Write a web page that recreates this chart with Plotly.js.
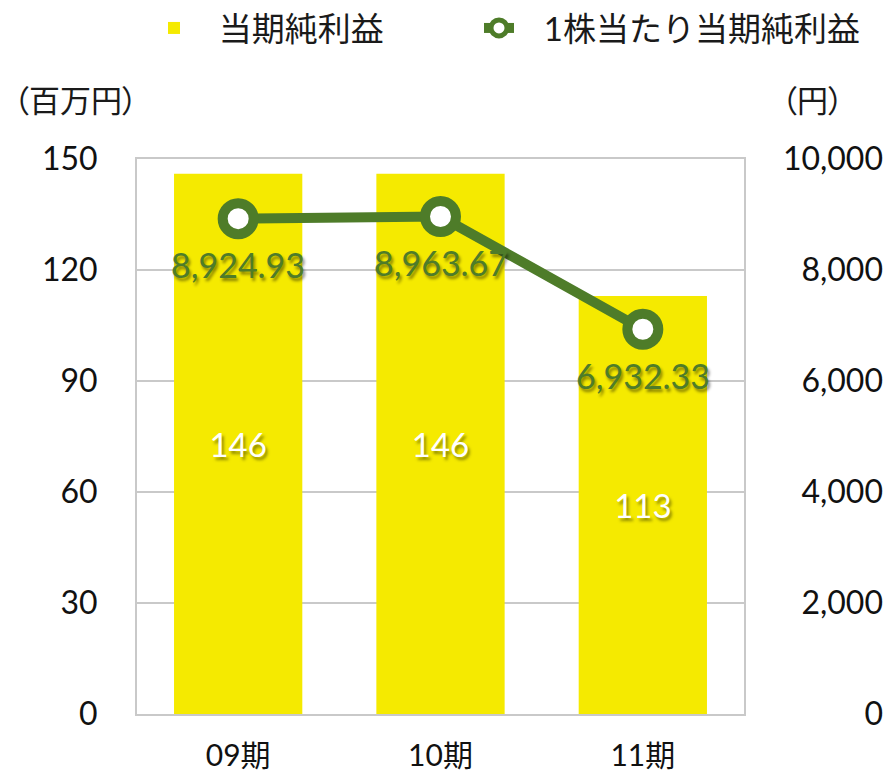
<!DOCTYPE html>
<html>
<head>
<meta charset="utf-8">
<script src="https://cdn.plot.ly/plotly-3.0.1.min.js"></script>
<style>
html,body{margin:0;padding:0;background:#fff;}
#chart{width:888px;height:772px;}
#chart .annotation-text{font-feature-settings:"palt";}
</style>
</head>
<body>
<div id="chart"></div>
<script>
// ---- data ----
const categories = ["09期", "10期", "11期"];
const netIncome = [146, 146, 113];                 // 当期純利益（百万円）
const eps = [8924.93, 8963.67, 6932.33];           // 1株当たり当期純利益（円）
const seriesNames = ["当期純利益", "1株当たり当期純利益"];
const leftTicks = [0, 30, 60, 90, 120, 150];
const rightTicks = [0, 2000, 4000, 6000, 8000, 10000];
const unitLabels = ["（百万円）", "（円）"];

// ---- style ----
const YELLOW = "#f5ea00";
const GREEN = "#4e7c29";
const GRID = "#c9c9c9";
const NUMFONT = "Lato, 'Noto Sans CJK JP', sans-serif";
const JPFONT = "'Noto Sans CJK JP', Lato, sans-serif";
const LEGEND_PAD = "\u2002\u2005";

const fmt2 = v => v.toLocaleString("en-US", { minimumFractionDigits: 2, maximumFractionDigits: 2 });

const barTrace = {
  type: "bar",
  name: LEGEND_PAD + seriesNames[0],
  legend: "legend",
  x: categories,
  y: netIncome,
  yaxis: "y",
  marker: { color: YELLOW },
  text: netIncome.map(v => String(v)),
  textposition: "inside",
  insidetextanchor: "middle",
  textangle: 0,
  textfont: { family: NUMFONT, size: 33, color: "#ffffff", shadow: "2px 3px 3px rgba(60,60,0,0.55)" },
  hoverinfo: "skip"
};

const lineTrace = {
  type: "scatter",
  mode: "lines+markers",
  name: LEGEND_PAD + seriesNames[1],
  legend: "legend2",
  x: categories,
  y: eps,
  yaxis: "y2",
  line: { color: GREEN, width: 10 },
  marker: { color: "#ffffff", size: 31, line: { color: GREEN, width: 10 } },
  cliponaxis: false,
  hoverinfo: "skip"
};

const epsLabels = categories.map((c, i) => ({
  text: fmt2(eps[i]),
  xref: "x", yref: "y2", x: c, y: eps[i],
  xanchor: "center", yanchor: "middle", yshift: -46,
  showarrow: false,
  font: { family: NUMFONT, size: 34, color: GREEN, shadow: "2px 3px 3px rgba(0,0,0,0.45)" }
}));

const legendBase = {
  orientation: "h",
  xref: "container", yref: "container",
  y: 1, xanchor: "left", yanchor: "top",
  font: { family: NUMFONT, size: 33, color: "#1a1a1a" },
  itemwidth: 30,
  bgcolor: "rgba(0,0,0,0)"
};

const layout = {
  width: 888,
  height: 772,
  margin: { l: 0, r: 0, t: 159, b: 58 },
  paper_bgcolor: "#ffffff",
  plot_bgcolor: "#ffffff",
  bargap: 0.366,
  showlegend: true,
  legend: Object.assign({}, legendBase, { x: 154 / 888 }),
  legend2: Object.assign({}, legendBase, { x: 479 / 888 }),
  xaxis: {
    domain: [137 / 888, 744 / 888],
    type: "category",
    showline: true, mirror: true, linecolor: GRID, linewidth: 2,
    ticks: "",
    ticklabelstandoff: 14,
    tickfont: { family: NUMFONT, size: 30, color: "#111111" },
    showgrid: false,
    zeroline: false,
    fixedrange: true
  },
  yaxis: {
    range: [0, 150],
    tickvals: leftTicks,
    ticktext: leftTicks.map(String),
    showline: true, mirror: true, linecolor: GRID, linewidth: 2,
    showgrid: true, gridcolor: GRID, gridwidth: 2,
    zeroline: false,
    ticks: "",
    ticklabelstandoff: 31,
    tickfont: { family: NUMFONT, size: 32, color: "#111111" },
    fixedrange: true
  },
  yaxis2: {
    overlaying: "y",
    anchor: "free",
    side: "left",
    position: 1,
    range: [0, 10000],
    tickvals: rightTicks,
    ticktext: rightTicks.map(v => v.toLocaleString("en-US")),
    showline: false, showgrid: false, zeroline: false,
    ticks: "",
    ticklabelstandoff: 5,
    tickfont: { family: NUMFONT, size: 32, color: "#111111" },
    fixedrange: true
  },
  annotations: [
    { text: unitLabels[0], xref: "paper", yref: "paper", x: 75 / 888, y: 1 + 61 / 555,
      xanchor: "center", yanchor: "middle", showarrow: false,
      font: { family: JPFONT, size: 31, color: "#1a1a1a" } },
    { text: unitLabels[1], xref: "paper", yref: "paper", x: 812 / 888, y: 1 + 61 / 555,
      xanchor: "center", yanchor: "middle", showarrow: false,
      font: { family: JPFONT, size: 31, color: "#1a1a1a" } }
  ].concat(epsLabels)
};

Plotly.newPlot("chart", [barTrace, lineTrace], layout, { displayModeBar: false, staticPlot: true });
</script>
</body>
</html>
